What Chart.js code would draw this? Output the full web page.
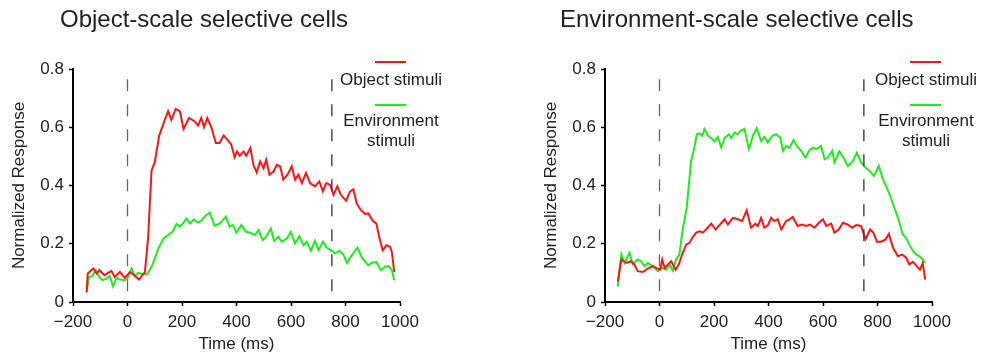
<!DOCTYPE html>
<html>
<head>
<meta charset="utf-8">
<script src="https://cdn.jsdelivr.net/npm/chart.js@4.4.1/dist/chart.umd.min.js"></script>
<style>
  body { margin: 0; background: #fff; }
  #page { position: relative; width: 986px; height: 358px; overflow: hidden;
          font-family: "Liberation Sans", Arial, Helvetica, sans-serif; color: #222; }
  .panel { position: absolute; top: 0; width: 493px; height: 358px; }
  .title { position: absolute; top: 7px; font-size: 24px; line-height: 24px; white-space: nowrap; }
  .key { position: absolute; height: 2px; width: 31px; }
  .keytext { position: absolute; width: 120px; text-align: center; font-size: 17px; white-space: nowrap; }
</style>
</head>
<body>
<div id="page">
  <div class="panel" style="left:0"><canvas id="leftChart"></canvas></div>
  <div class="panel" style="left:493px"><canvas id="rightChart"></canvas></div>

  <div class="title" style="left:60px">Object-scale selective cells</div>
  <div class="title" style="left:560px">Environment-scale selective cells</div>

  <!-- legends -->
  <div class="key" style="left:375px; top:61px; background:rgb(255,20,20)"></div>
  <div class="keytext" style="left:331px; top:70px; line-height:20px">Object stimuli</div>
  <div class="key" style="left:375px; top:104px; background:rgb(30,235,30)"></div>
  <div class="keytext" style="left:331px; top:111px; line-height:19.5px">Environment<br>stimuli</div>

  <div class="key" style="left:910px; top:61px; background:rgb(255,20,20)"></div>
  <div class="keytext" style="left:866px; top:70px; line-height:20px">Object stimuli</div>
  <div class="key" style="left:910px; top:104px; background:rgb(30,235,30)"></div>
  <div class="keytext" style="left:866px; top:111px; line-height:19.5px">Environment<br>stimuli</div>
</div>

<script>
// values (time in ms, normalized response)
const xTicks = [-200, 0, 200, 400, 600, 800, 1000];
const yTicks = [0, 0.2, 0.4, 0.6, 0.8];
const markerTimes = [0, 750];   // stimulus on / off
const markerTop = 0.765;

// left panel: object-scale selective cells
const leftObjTime = [-150, -146, -125, -113, -103, -85, -59, -47, -28, -10, 9, 27, 42, 64, 76, 88, 100, 116, 131, 149, 161, 177, 192, 206, 226, 247, 259, 271, 281, 293, 308, 324, 338, 353, 369, 381, 393, 402, 412, 426, 436, 451, 462, 474, 487, 499, 509, 521, 536, 548, 560, 572, 587, 603, 615, 627, 640, 655, 670, 688, 704, 717, 729, 744, 756, 770, 783, 802, 817, 829, 841, 856, 872, 884, 900, 913, 925, 937, 950, 964, 970, 979];
const leftObjResp = [0.035, 0.098, 0.115, 0.098, 0.11, 0.092, 0.107, 0.086, 0.103, 0.083, 0.103, 0.09, 0.077, 0.103, 0.224, 0.45, 0.48, 0.57, 0.61, 0.655, 0.626, 0.663, 0.655, 0.594, 0.632, 0.62, 0.606, 0.632, 0.60, 0.632, 0.60, 0.546, 0.546, 0.572, 0.555, 0.54, 0.497, 0.517, 0.502, 0.517, 0.502, 0.529, 0.471, 0.445, 0.483, 0.46, 0.488, 0.437, 0.448, 0.471, 0.466, 0.42, 0.437, 0.466, 0.42, 0.437, 0.408, 0.443, 0.408, 0.397, 0.414, 0.38, 0.408, 0.402, 0.368, 0.397, 0.368, 0.348, 0.38, 0.387, 0.339, 0.316, 0.302, 0.304, 0.279, 0.27, 0.218, 0.178, 0.195, 0.19, 0.172, 0.103];
const leftEnvTime = [-150, -142, -129, -116, -104, -92, -77, -65, -53, -40, -28, -10, 2, 15, 27, 39, 57, 72, 88, 100, 116, 133, 149, 165, 180, 192, 204, 216, 229, 243, 259, 271, 289, 302, 320, 336, 345, 361, 375, 387, 400, 418, 436, 451, 468, 481, 496, 509, 526, 538, 554, 566, 585, 599, 615, 631, 646, 658, 673, 688, 701, 717, 731, 746, 762, 778, 792, 805, 819, 844, 860, 884, 896, 913, 930, 945, 958, 970, 979];
const leftEnvResp = [0.031, 0.084, 0.089, 0.109, 0.086, 0.075, 0.08, 0.089, 0.054, 0.083, 0.077, 0.075, 0.086, 0.115, 0.089, 0.1, 0.095, 0.095, 0.12, 0.149, 0.19, 0.218, 0.23, 0.241, 0.268, 0.259, 0.27, 0.287, 0.27, 0.284, 0.272, 0.279, 0.299, 0.307, 0.261, 0.268, 0.276, 0.293, 0.259, 0.264, 0.238, 0.264, 0.241, 0.238, 0.23, 0.247, 0.213, 0.224, 0.253, 0.21, 0.224, 0.207, 0.218, 0.241, 0.201, 0.226, 0.195, 0.207, 0.176, 0.21, 0.178, 0.207, 0.187, 0.178, 0.167, 0.176, 0.164, 0.134, 0.155, 0.187, 0.153, 0.126, 0.134, 0.138, 0.109, 0.121, 0.123, 0.109, 0.075];

// right panel: environment-scale selective cells
const rightObjTime = [-153, -140, -122, -104, -92, -80, -61, -43, -24, -12, 3, 10, 19, 31, 43, 59, 71, 83, 98, 110, 122, 135, 147, 159, 171, 190, 206, 220, 239, 251, 269, 288, 303, 320, 336, 352, 361, 373, 385, 398, 410, 422, 434, 447, 465, 477, 489, 507, 523, 538, 553, 569, 585, 600, 612, 630, 642, 658, 673, 691, 707, 722, 740, 756, 773, 785, 798, 814, 830, 842, 857, 875, 891, 905, 917, 930, 944, 956, 966, 975];
const rightObjResp = [0.071, 0.146, 0.134, 0.14, 0.129, 0.106, 0.103, 0.115, 0.123, 0.117, 0.111, 0.146, 0.117, 0.129, 0.14, 0.111, 0.129, 0.163, 0.197, 0.203, 0.223, 0.238, 0.243, 0.238, 0.249, 0.269, 0.249, 0.264, 0.284, 0.266, 0.289, 0.284, 0.278, 0.315, 0.255, 0.269, 0.261, 0.289, 0.255, 0.264, 0.289, 0.278, 0.284, 0.249, 0.278, 0.284, 0.292, 0.261, 0.266, 0.261, 0.266, 0.255, 0.272, 0.284, 0.261, 0.269, 0.238, 0.249, 0.272, 0.266, 0.255, 0.264, 0.261, 0.215, 0.249, 0.238, 0.207, 0.207, 0.215, 0.234, 0.186, 0.157, 0.163, 0.152, 0.129, 0.138, 0.123, 0.111, 0.134, 0.077];
const rightEnvTime = [-153, -140, -128, -122, -110, -98, -80, -67, -55, -43, -24, -6, 10, 25, 37, 49, 61, 73, 86, 100, 116, 128, 137, 147, 157, 165, 178, 190, 202, 214, 227, 239, 255, 263, 276, 288, 297, 312, 328, 343, 357, 373, 385, 398, 414, 428, 443, 453, 465, 477, 492, 504, 520, 536, 550, 563, 577, 593, 606, 618, 634, 642, 660, 679, 691, 710, 724, 740, 756, 771, 787, 805, 820, 832, 847, 862, 875, 893, 905, 917, 930, 942, 954, 966, 975];
const rightEnvResp = [0.054, 0.163, 0.134, 0.146, 0.169, 0.129, 0.146, 0.14, 0.123, 0.134, 0.123, 0.106, 0.117, 0.111, 0.129, 0.108, 0.146, 0.163, 0.255, 0.324, 0.485, 0.53, 0.576, 0.579, 0.571, 0.594, 0.571, 0.563, 0.551, 0.567, 0.53, 0.563, 0.576, 0.563, 0.582, 0.576, 0.588, 0.594, 0.525, 0.571, 0.597, 0.553, 0.567, 0.548, 0.571, 0.576, 0.565, 0.519, 0.536, 0.53, 0.556, 0.536, 0.519, 0.496, 0.521, 0.53, 0.525, 0.536, 0.49, 0.496, 0.519, 0.479, 0.517, 0.49, 0.467, 0.484, 0.513, 0.479, 0.462, 0.45, 0.433, 0.467, 0.421, 0.398, 0.364, 0.324, 0.289, 0.232, 0.22, 0.197, 0.175, 0.163, 0.157, 0.146, 0.134];

const RED = 'rgb(255,20,20)';
const GREEN = 'rgb(30,235,30)';

Chart.defaults.font.family = '"Liberation Sans", Arial, Helvetica, sans-serif';
Chart.defaults.font.size = 17;
Chart.defaults.color = '#222';

function pairs(times, values) {
    return times.map((t, i) => ({ x: t, y: values[i] }));
}

function series(times, values, color) {
    return {
        data: pairs(times, values),
        borderColor: color,
        borderWidth: 2,
        pointRadius: 0,
        tension: 0,
        fill: false
    };
}

function marker(t, color) {
    return {
        data: [{ x: t, y: markerTop }, { x: t, y: 0 }],
        borderColor: color,
        borderWidth: 1.3,
        borderDash: [12, 13],
        pointRadius: 0,
        fill: false
    };
}

function makeChart(id, objT, objV, envT, envV, padLeft, padRight) {
    const ctx = document.getElementById(id).getContext('2d');
    return new Chart(ctx, {
        type: 'line',
        data: {
            datasets: [
                marker(markerTimes[0], '#666'),
                marker(markerTimes[1], '#333'),
                series(objT, objV, RED),
                series(envT, envV, GREEN)
            ]
        },
        options: {
            responsive: true,
            maintainAspectRatio: false,
            animation: false,
            layout: { padding: { left: padLeft, right: padRight, top: 69, bottom: 0 } },
            plugins: {
                legend: { display: false },
                tooltip: { enabled: false }
            },
            scales: {
                x: {
                    type: 'linear',
                    min: xTicks[0],
                    max: xTicks[xTicks.length - 1],
                    afterBuildTicks: (scale) => { scale.ticks = xTicks.map(v => ({ value: v })); },
                    afterFit: (scale) => { scale.height = 56; },
                    grid: { drawOnChartArea: false, drawTicks: true, tickLength: 4, tickColor: '#000', tickWidth: 1.5 },
                    border: { display: true, color: '#000', width: 2 },
                    ticks: {
                        autoSkip: false,
                        maxRotation: 0,
                        padding: 6,
                        color: '#222',
                        callback: (v) => v < 0 ? '\u2212' + Math.abs(v) : String(v)
                    },
                    title: { display: true, text: 'Time (ms)', color: '#222', padding: { top: 0, bottom: 3 } }
                },
                y: {
                    min: yTicks[0],
                    max: yTicks[yTicks.length - 1],
                    afterBuildTicks: (scale) => { scale.ticks = yTicks.map(v => ({ value: v })); },
                    afterFit: (scale) => { scale.width = 73; },
                    grid: { drawOnChartArea: false, drawTicks: true, tickLength: 4, tickColor: '#000', tickWidth: 1.5 },
                    border: { display: true, color: '#000', width: 2 },
                    ticks: {
                        padding: 5,
                        color: '#222',
                        callback: (v) => v === 0 ? '0' : Number(v).toFixed(1)
                    },
                    title: { display: true, text: 'Normalized Response', color: '#222', padding: { top: 9, bottom: 0 } }
                }
            }
        }
    });
}

makeChart('leftChart', leftObjTime, leftObjResp, leftEnvTime, leftEnvResp, 0, 93);
makeChart('rightChart', rightObjTime, rightObjResp, rightEnvTime, rightEnvResp, 39, 54);
</script>
</body>
</html>
